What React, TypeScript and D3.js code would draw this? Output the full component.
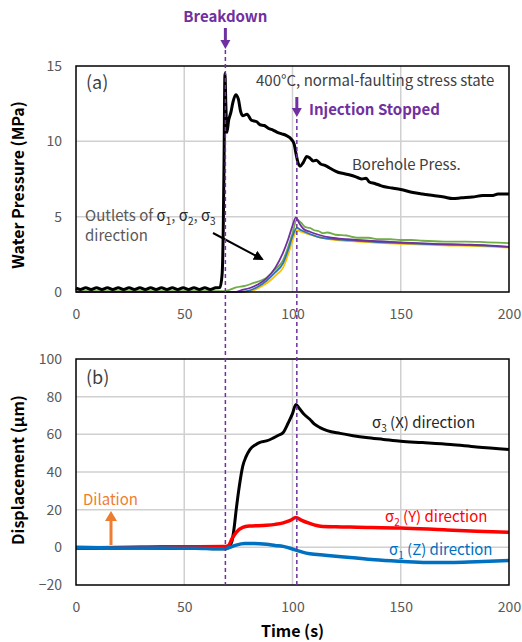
import React, { useRef, useEffect } from "react";
import * as d3 from "d3";

const W = 522;
const H = 642;
const plotA = { left: 76, right: 509, top: 66, bottom: 292 };
const plotB = { left: 76, right: 509, top: 359, bottom: 585 };

const timeTicks = [0, 50, 100, 150, 200];
const pressureTicks = [0, 5, 10, 15];
const dispTicks = [-20, 0, 20, 40, 60, 80, 100];

const breakdownTime = 69;
const stopTime = 102;

// [time s, pressure MPa]
const boreholePress = [
  [0, 0.25], [2, 0.17], [4.5, 0.28], [7, 0.17], [9.5, 0.28], [12, 0.17], [14.5, 0.28],
  [17, 0.17], [19.5, 0.28], [22, 0.17], [24.5, 0.28], [27, 0.17], [29.5, 0.28], [32, 0.17],
  [34.5, 0.28], [37, 0.17], [39.5, 0.28], [42, 0.17], [44.5, 0.28], [47, 0.17], [49.5, 0.28],
  [52, 0.17], [54.5, 0.28], [57, 0.17], [59.5, 0.28], [62, 0.17], [64.5, 0.28], [66.5, 0.3],
  [67.5, 1.2], [68, 4], [68.4, 9], [68.8, 14.5], [69.2, 12.5], [69.7, 10.6], [70.5, 11.4],
  [71.5, 11.9], [72.5, 12.6], [73.8, 13.1], [75, 12.8], [76, 12.0], [77, 11.7], [79, 11.8],
  [81, 11.4], [83.5, 11.3], [85, 11.1], [87, 11.05], [89, 10.85], [91, 10.75], [93, 10.6],
  [95, 10.5], [97, 10.4], [99.7, 10.1], [100.8, 9.8], [101.6, 9.2], [102.5, 8.6],
  [103.5, 8.35], [105, 8.6], [106.6, 9.0], [108, 8.9], [109.5, 8.7], [111, 8.75],
  [113, 8.5], [115, 8.4], [117, 8.25], [118.8, 8.1], [121, 7.95], [124, 7.85], [127, 7.75],
  [130, 7.6], [132, 7.5], [134, 7.55], [135.5, 7.3], [138, 7.2], [140, 7.1], [142, 7.0],
  [146, 6.9], [150, 6.8], [155.7, 6.6], [160, 6.5], [165, 6.4], [170, 6.3], [174, 6.2],
  [178, 6.25], [183, 6.3], [188, 6.4], [192, 6.4], [195, 6.5], [200, 6.5],
];

const outletGreen = [
  [0, 0.05], [68, 0.05], [70, 0.1], [74, 0.3], [78, 0.4], [82, 0.6], [86, 0.8], [88, 0.95],
  [92, 1.5], [95.6, 2.1], [98, 3.0], [100, 3.9], [102, 4.8], [104, 4.6], [106, 4.3],
  [108, 4.25], [110, 4.1], [112, 4.05], [114, 3.9], [116, 3.95], [120, 3.8], [125, 3.75],
  [130, 3.6], [135, 3.6], [140, 3.5], [145, 3.5], [150, 3.45], [155, 3.45], [160, 3.4],
  [170, 3.35], [180, 3.35], [190, 3.3], [200, 3.25],
];
const outletPurple = [
  [0, 0], [74, 0], [76, 0.1], [80, 0.25], [84, 0.5], [88, 0.9], [92, 1.6], [95.6, 2.6],
  [98, 3.5], [100, 4.4], [101.6, 4.95], [103, 4.6], [105, 4.2], [108, 4.0], [112, 3.8],
  [118, 3.6], [125, 3.5], [135, 3.4], [150, 3.3], [165, 3.2], [180, 3.15], [190, 3.1],
  [200, 3.0],
];
const outletBlue = [
  [0, 0], [76, 0], [80, 0.1], [84, 0.35], [88, 0.75], [92, 1.3], [95.6, 1.9], [98, 2.8],
  [100, 3.7], [102, 4.25], [104, 4.1], [108, 3.85], [112, 3.65], [120, 3.5], [130, 3.4],
  [150, 3.25], [170, 3.15], [185, 3.1], [200, 3.0],
];
const outletYellow = [
  [0, 0], [78, 0], [82, 0.1], [86, 0.4], [90, 0.8], [93, 1.2], [95.6, 1.6], [98, 2.5],
  [100, 3.4], [102, 4.1], [104, 4.0], [108, 3.8], [112, 3.65], [120, 3.45], [130, 3.35],
  [150, 3.2], [170, 3.1], [185, 3.05], [200, 2.95],
];

// [time s, displacement um]
const dispX = [
  [0, -0.5], [30, -0.3], [60, -0.6], [69, -0.8], [70.5, 0], [72, 3], [73, 10], [74, 20],
  [75.5, 33], [77, 43], [78.5, 48], [80.4, 52], [83, 54.5], [85, 55.7], [88, 56.5],
  [91, 58], [93.5, 59.5], [95.7, 61], [98, 66], [100, 71], [101.6, 75.9], [103, 74],
  [105, 71], [108, 68], [110, 65.5], [112.7, 63.6], [116, 62], [122, 60.5], [128, 59.3],
  [134, 58.3], [142, 57.3], [150, 56.3], [160, 55.6], [173, 54.6], [185, 53.3], [200, 52],
];
const dispY = [
  [0, -0.5], [30, 0.2], [50, 0.3], [69, 0.5], [70.5, 1], [72, 4.5], [74, 8], [77, 10.6],
  [80, 11.3], [88, 11.7], [92, 12.2], [95.7, 13], [99, 14.3], [101.6, 15.8], [104, 14.5],
  [108, 12.7], [113, 11.2], [120, 10.9], [130, 10.7], [150, 10.3], [170, 9.3], [185, 8.6],
  [200, 8],
];
const dispZ = [
  [0, 0], [20, -0.3], [40, -0.3], [55, -0.5], [69, -0.8], [71, 0], [74, 1.2], [78, 2],
  [82, 2], [88, 1.6], [92, 1], [95.7, 0.5], [99, -0.5], [101.6, -1.5], [105, -2.7],
  [108, -3.4], [115, -4.2], [126.6, -5.4], [138, -6.6], [150, -7.4], [162, -8], [173, -8],
  [185, -7.6], [200, -7],
];

const PURPLE = "#7030a0";
const GRID = "#d0d0d0";
const TICK = "#595959";
const FONT = "'Noto Sans CJK JP', 'Noto Sans', sans-serif";

const App = () => {
  const axARef = useRef();
  const axBRef = useRef();

  const x = d3.scaleLinear().domain([0, 200]).range([plotA.left, plotA.right]);
  const yA = d3.scaleLinear().domain([0, 15]).range([plotA.bottom, plotA.top]);
  const yB = d3.scaleLinear().domain([-20, 100]).range([plotB.bottom, plotB.top]);

  const lineA = d3.line().x((d) => x(d[0])).y((d) => yA(d[1])).curve(d3.curveMonotoneX);
  const lineB = d3.line().x((d) => x(d[0])).y((d) => yB(d[1])).curve(d3.curveMonotoneX);

  useEffect(() => {
    const setup = (ref, yScale, yTicks, plot) => {
      const g = d3.select(ref.current);
      g.selectAll("*").remove();
      const xg = g.append("g").attr("transform", `translate(0,${plot.bottom})`)
        .call(d3.axisBottom(x).tickValues(timeTicks).tickSize(0).tickPadding(17));
      const yg = g.append("g").attr("transform", `translate(${plot.left},0)`)
        .call(d3.axisLeft(yScale).tickValues(yTicks).tickSize(0).tickPadding(14));
      [xg, yg].forEach((a) => {
        a.select(".domain").remove();
        a.selectAll("text").attr("fill", TICK).style("font-size", "14px").style("font-family", FONT);
      });
    };
    setup(axARef, yA, pressureTicks, plotA);
    setup(axBRef, yB, dispTicks, plotB);
  }, []);

  const gridV = (plot) =>
    [50, 100, 150].map((t) => (
      <line key={t} x1={x(t)} x2={x(t)} y1={plot.top} y2={plot.bottom} stroke={GRID} strokeWidth={1.5} />
    ));

  // sigma, lowered index, then the following text back on the baseline
  const sig = (n, color, after) => [
    <tspan key={"s" + n} fill={color}>σ</tspan>,
    <tspan key={"n" + n} dy={4} fontSize="10px" fill={color}>{n}</tspan>,
    <tspan key={"r" + n} dy={-4}>{after}</tspan>,
  ];

  return (
    <svg width={W} height={H} style={{ position: "absolute", left: 0, top: 0, fontFamily: FONT }}>
      <defs>
        <marker id="arrBlack" viewBox="0 0 10 10" refX="8" refY="5" markerWidth="5" markerHeight="5" orient="auto">
          <path d="M0,0 L10,5 L0,10 z" fill="black" />
        </marker>
      </defs>
      <rect width={W} height={H} fill="white" />

      {/* panel (a) */}
      {gridV(plotA)}
      {[5, 10].map((v) => (
        <line key={v} x1={plotA.left} x2={plotA.right} y1={yA(v)} y2={yA(v)} stroke={GRID} strokeWidth={1.5} />
      ))}
      <path d={lineA(outletGreen)} fill="none" stroke="#70ad47" strokeWidth={1.8} />
      <path d={lineA(outletYellow)} fill="none" stroke="#ffc000" strokeWidth={1.8} />
      <path d={lineA(outletBlue)} fill="none" stroke="#2e75b6" strokeWidth={1.8} />
      <path d={lineA(outletPurple)} fill="none" stroke={PURPLE} strokeWidth={1.8} />
      <path d={lineA(boreholePress)} fill="none" stroke="black" strokeWidth={3} strokeLinejoin="round" />
      <rect x={plotA.left} y={plotA.top} width={plotA.right - plotA.left} height={plotA.bottom - plotA.top}
        fill="none" stroke="black" strokeWidth={1.5} />

      <text x={86} y={89} fontSize="18px" fill="#404040">(a)</text>
      <text x={256} y={86} fontSize="15px" fill="#404040">400°C, normal-faulting stress state</text>
      <text x={309} y={115} fontSize="15px" fontWeight="bold" fill={PURPLE}>Injection Stopped</text>
      <text x={352} y={170} fontSize="15px" fill="#404040">Borehole Press.</text>
      <text x={85} y={221} fontSize="15px" fill="#595959">
        Outlets of {sig(1, "#262626", ", ")}{sig(2, "#262626", ", ")}{sig(3, "#262626", "")}
      </text>
      <text x={85} y={241} fontSize="15px" fill="#595959">direction</text>
      <line x1={213} y1={233} x2={262} y2={259} stroke="black" strokeWidth={2} markerEnd="url(#arrBlack)" />

      {/* panel (b) */}
      {gridV(plotB)}
      {[0, 20, 40, 60, 80].map((v) => (
        <line key={v} x1={plotB.left} x2={plotB.right} y1={yB(v)} y2={yB(v)} stroke={GRID} strokeWidth={1.5} />
      ))}
      <path d={lineB(dispX)} fill="none" stroke="black" strokeWidth={3} />
      <path d={lineB(dispY)} fill="none" stroke="#ff0000" strokeWidth={3.5} />
      <path d={lineB(dispZ)} fill="none" stroke="#0070c0" strokeWidth={3.5} />
      <rect x={plotB.left} y={plotB.top} width={plotB.right - plotB.left} height={plotB.bottom - plotB.top}
        fill="none" stroke="black" strokeWidth={1.5} />

      <text x={86} y={384} fontSize="18px" fill="#404040">(b)</text>
      <text x={372} y={428} fontSize="15px" fill="#262626">{sig(3, "#262626", " (X) direction")}</text>
      <text x={385} y={522} fontSize="15px" fill="#ff0000">{sig(2, "#ff0000", " (Y) direction")}</text>
      <text x={389} y={555} fontSize="15px" fill="#0070c0">{sig(1, "#0070c0", " (Z) direction")}</text>
      <text x={83} y={505} fontSize="15px" fill="#ed7d31">Dilation</text>
      <line x1={111} y1={545} x2={111} y2={520} stroke="#ed7d31" strokeWidth={3} />
      <path d="M105,521 L111,511 L117,521 z" fill="#ed7d31" />

      {/* event markers */}
      {[[breakdownTime, 50], [stopTime, 119]].map(([t, y0]) => (
        <line key={t} x1={x(t)} x2={x(t)} y1={y0} y2={plotB.bottom} stroke={PURPLE} strokeWidth={1.5} strokeDasharray="4,3" />
      ))}
      <text x={x(breakdownTime)} y={22} textAnchor="middle" fontSize="15px" fontWeight="bold" fill={PURPLE}>Breakdown</text>
      <line x1={x(breakdownTime)} x2={x(breakdownTime)} y1={28} y2={42} stroke={PURPLE} strokeWidth={3} />
      <path d={`M${x(breakdownTime) - 5},40 L${x(breakdownTime)},49 L${x(breakdownTime) + 5},40 z`} fill={PURPLE} />
      <line x1={x(stopTime)} x2={x(stopTime)} y1={97} y2={110} stroke={PURPLE} strokeWidth={3} />
      <path d={`M${x(stopTime) - 5},108 L${x(stopTime)},117 L${x(stopTime) + 5},108 z`} fill={PURPLE} />

      <g ref={axARef}></g>
      <g ref={axBRef}></g>

      <text transform={`translate(24,${(plotA.top + plotA.bottom) / 2 + 6}) rotate(-90)`} textAnchor="middle"
        fontSize="16px" fontWeight="bold" fill="black">Water Pressure (MPa)</text>
      <text transform={`translate(24,${(plotB.top + plotB.bottom) / 2 - 2}) rotate(-90)`} textAnchor="middle"
        fontSize="16px" fontWeight="bold" fill="black">Displacement (μm)</text>
      <text x={(plotB.left + plotB.right) / 2} y={637} textAnchor="middle" fontSize="16px" fontWeight="bold" fill="black">
        Time (s)
      </text>
    </svg>
  );
};

export default App;
